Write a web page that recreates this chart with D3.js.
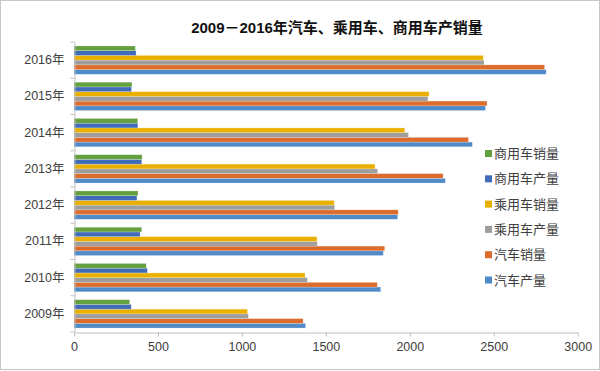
<!DOCTYPE html>
<html>
<head>
<meta charset="utf-8">
<script src="https://cdn.jsdelivr.net/npm/d3@7"></script>
<style>
  body { margin: 0; background: #fff; }
  text { font-family: "Liberation Sans", "Noto Sans CJK SC", sans-serif; }
</style>
</head>
<body>
<script>
var years = ['2009年', '2010年', '2011年', '2012年', '2013年', '2014年', '2015年', '2016年'];
var seriesNames = ['汽车产量', '汽车销量', '乘用车产量', '乘用车销量', '商用车产量', '商用车销量'];
var autoProd = [1379.1, 1826.5, 1841.9, 1927.2, 2211.7, 2372.3, 2450.3, 2811.9];
var autoSales = [1364.5, 1806.2, 1850.5, 1930.6, 2198.4, 2349.2, 2459.8, 2802.8];
var passProd = [1038.4, 1389.7, 1448.5, 1552.4, 1808.5, 1992.0, 2107.9, 2442.1];
var passSales = [1033.1, 1375.8, 1447.2, 1549.5, 1792.9, 1970.1, 2114.6, 2437.7];
var commProd = [340.7, 436.8, 393.4, 374.8, 403.2, 380.3, 342.4, 369.8];
var commSales = [331.4, 430.4, 403.3, 381.1, 405.5, 379.1, 345.1, 365.1];
var xTicks = [0, 500, 1000, 1500, 2000, 2500, 3000];
var colors = ['#4f8bc9', '#dc6c2c', '#9e9e9e', '#eab000', '#3f6bb8', '#64a03f'];

var seriesValues = [autoProd, autoSales, passProd, passSales, commProd, commSales];
var width = 600;
var height = 371;

window.document.addEventListener('DOMContentLoaded', init, false);

function init() {
    var svg = d3.select('body')
        .append('svg')
        .attr('width', width)
        .attr('height', height);

    // outer border
    svg.append('rect')
        .attr('x', 0.5).attr('y', 0.5)
        .attr('width', width - 1).attr('height', height - 2)
        .attr('fill', '#fff')
        .attr('stroke', '#c8c8c8');

    svg.append('text')
        .attr('x', 337)
        .attr('y', 33)
        .attr('text-anchor', 'middle')
        .attr('font-size', 15)
        .attr('font-weight', 'bold')
        .attr('fill', '#111')
        .text('2009－2016年汽车、乘用车、商用车产销量');

    var x = d3.scaleLinear().domain([0, 3000]).range([74, 577.7]);
    var y = d3.scaleBand().domain(years).range([332, 42]);
    var inner = d3.scaleBand().domain(seriesNames)
        .range([y.bandwidth(), 0])
        .paddingInner(0)
        .paddingOuter(0.84);

    // bars
    var groups = svg.append('g').selectAll('g')
        .data(years)
        .join('g')
        .attr('transform', function(d) { return 'translate(0,' + y(d) + ')'; });

    groups.selectAll('rect')
        .data(function(d, i) {
            return seriesNames.map(function(s, k) {
                return { name: s, value: seriesValues[k][i], color: colors[k] };
            });
        })
        .join('rect')
        .attr('x', x(0))
        .attr('y', function(d) { return inner(d.name); })
        .attr('width', function(d) { return x(d.value) - x(0); })
        .attr('height', inner.bandwidth())
        .attr('fill', function(d) { return d.color; })
        .attr('stroke', 'rgba(255,255,255,0.35)')
        .attr('stroke-width', 0.6);

    // x axis
    var xAxis = svg.append('g')
        .attr('transform', 'translate(0,332.5)')
        .call(d3.axisBottom(x).tickValues(xTicks).tickFormat(d3.format('d'))
            .tickSize(4).tickPadding(6).tickSizeOuter(0));
    xAxis.select('.domain').attr('stroke', '#bfbfbf');
    xAxis.selectAll('line').attr('stroke', '#bfbfbf');
    xAxis.selectAll('text').attr('font-size', 12.5).attr('fill', '#404040');

    // y axis
    var yAxis = svg.append('g')
        .attr('transform', 'translate(74.5,0)')
        .call(d3.axisLeft(y).tickSize(0).tickPadding(10));
    yAxis.select('.domain').attr('stroke', '#bfbfbf');
    yAxis.selectAll('text').attr('font-size', 12.5).attr('fill', '#404040');
    // boundary ticks between categories
    var bounds = years.map(function(d) { return y(d); }).concat([332]);
    yAxis.selectAll('.bound')
        .data(bounds)
        .join('line')
        .attr('class', 'bound')
        .attr('x1', -4).attr('x2', 0)
        .attr('y1', function(d) { return d; })
        .attr('y2', function(d) { return d; })
        .attr('stroke', '#bfbfbf');

    // legend
    var legendOrder = seriesNames.slice().reverse();
    var legend = svg.append('g').selectAll('g')
        .data(legendOrder)
        .join('g')
        .attr('transform', function(d, i) { return 'translate(485,' + (153.5 + i * 25.3) + ')'; });
    legend.append('rect')
        .attr('x', 0).attr('y', -3.5)
        .attr('width', 7).attr('height', 7)
        .attr('fill', function(d) { return colors[seriesNames.indexOf(d)]; });
    legend.append('text')
        .attr('x', 9)
        .attr('y', 0)
        .attr('dy', '0.36em')
        .attr('font-size', 13)
        .attr('fill', '#404040')
        .text(function(d) { return d; });
}
</script>
</body>
</html>
